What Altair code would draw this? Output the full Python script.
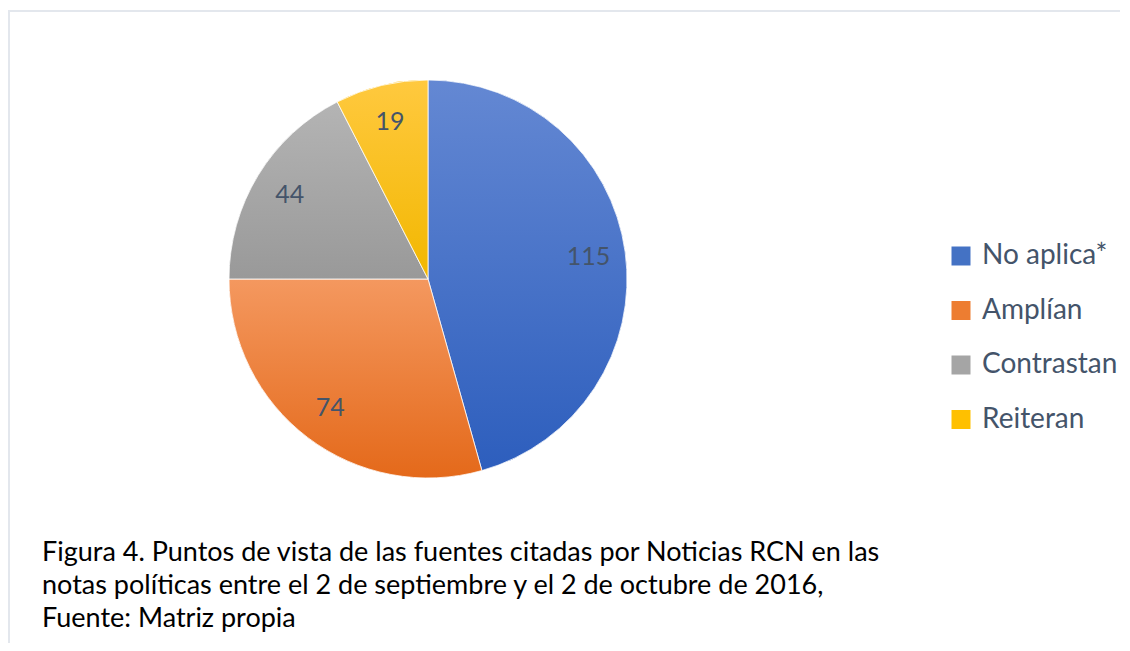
import math
import altair as alt
import pandas as pd

categories = ["No aplica*", "Amplían", "Contrastan", "Reiteran"]
values = [115, 74, 44, 19]
flat_colors = ["#4472C4", "#ED7D31", "#A5A5A5", "#FFC000"]
grad_top = ["#6488d3", "#f4985f", "#b4b4b4", "#ffc93f"]
grad_bottom = ["#2d5ebd", "#e4691a", "#999999", "#f2b700"]
caption_lines = [
    "Figura 4. Puntos de vista de las fuentes citadas por Noticias RCN en las",
    "notas políticas entre el 2 de septiembre y el 2 de octubre de 2016,",
    "Fuente: Matriz propia",
]

FONT = "Lato"
TEXT_COL = "#44546A"
W, H = 1112, 635
CX, CY, R = 420, 271, 199

df = pd.DataFrame({"cat": categories, "value": values, "idx": list(range(len(values)))})
total = sum(values)

base = (
    alt.Chart(df)
    .transform_window(cum="sum(value)", sort=[alt.SortField("idx")], frame=[None, 0])
    .transform_calculate(start="datum.cum - datum.value", mid="datum.cum - datum.value / 2")
)
theta_scale = alt.Scale(domain=[0, total], range=[0, 2 * math.pi])

legend_layer = base.mark_arc(radius=R).encode(
    theta=alt.Theta("start:Q", scale=theta_scale),
    theta2="cum:Q",
    x=alt.value(CX),
    y=alt.value(CY),
    color=alt.Color(
        "cat:N",
        scale=alt.Scale(domain=categories, range=flat_colors),
        sort=categories,
        legend=alt.Legend(
            title=None,
            orient="none",
            legendX=939,
            legendY=234,
            symbolType="square",
            symbolSize=361,
            symbolStrokeWidth=0,
            labelFontSize=28,
            labelFont=FONT,
            labelColor=TEXT_COL,
            labelOffset=7,
            rowPadding=26.5,
            padding=0,
            labelLimit=300,
        ),
    ),
)

slice_layers = []
for c, t, b in zip(categories, grad_top, grad_bottom):
    slice_layers.append(
        base.transform_filter(alt.datum.cat == c)
        .mark_arc(
            radius=R,
            stroke="white",
            strokeWidth=0.8,
            fill=alt.LinearGradient(
                gradient="linear",
                stops=[alt.GradientStop(color=t, offset=0), alt.GradientStop(color=b, offset=1)],
                x1=0, x2=0, y1=0, y2=1,
            ),
        )
        .encode(
            theta=alt.Theta("start:Q", scale=theta_scale),
            theta2="cum:Q",
            x=alt.value(CX),
            y=alt.value(CY),
        )
    )

labels = base.mark_text(radius=162, font=FONT, fontSize=25, color=TEXT_COL).encode(
    theta=alt.Theta("mid:Q", scale=theta_scale),
    x=alt.value(CX),
    y=alt.value(CY),
    text="value:Q",
)

one = pd.DataFrame({"k": [0]})
caption = alt.Chart(one).mark_text(
    align="left", baseline="alphabetic", font=FONT, fontSize=27, lineHeight=33, color="#000000"
).encode(x=alt.value(34), y=alt.value(553), text=alt.value(caption_lines))

border_top = alt.Chart(one).mark_rule(color="#e3e7ed", strokeWidth=2).encode(
    x=alt.value(1), x2=alt.value(W), y=alt.value(3)
)
border_left = alt.Chart(one).mark_rule(color="#e3e7ed", strokeWidth=2).encode(
    x=alt.value(1), y=alt.value(2), y2=alt.value(H)
)

chart = (
    alt.layer(border_top, border_left, legend_layer, *slice_layers, labels, caption)
    .properties(
        width=W,
        height=H,
        padding=0,
        autosize=alt.AutoSizeParams(type="fit", contains="padding"),
        background="white",
    )
    .configure_view(stroke=None)
)

chart.save("out.html", embed_options={"renderer": "svg", "actions": False})
